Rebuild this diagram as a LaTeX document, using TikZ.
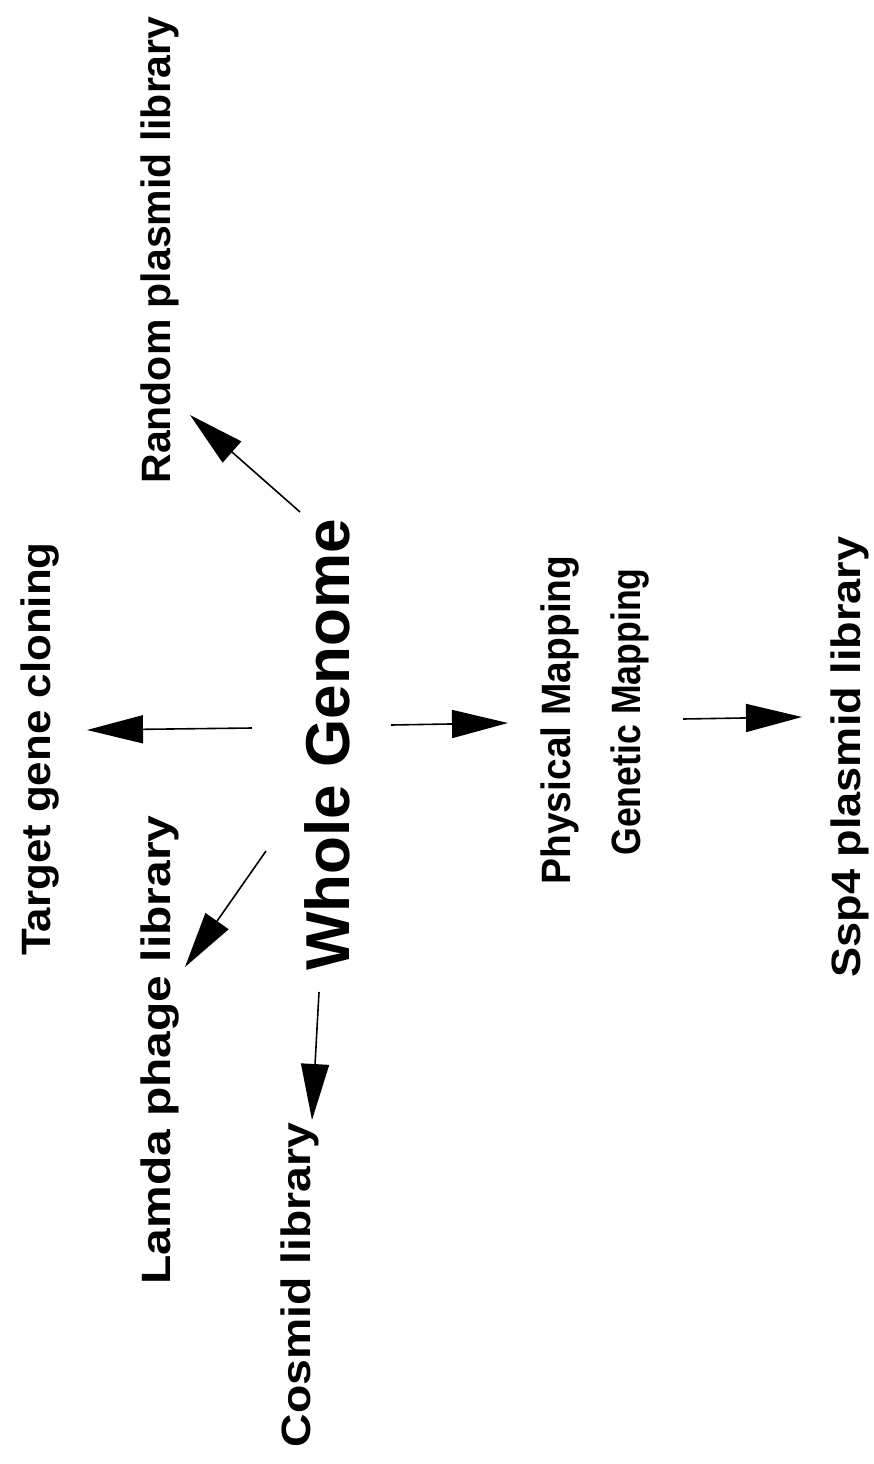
\documentclass[tikz,border=0pt]{standalone}
\usepackage{fontspec}
\setmainfont{Liberation Sans}
\usetikzlibrary{arrows.meta}

\tikzset{
  lbl/.style={rotate=90, inner sep=0pt, font=\fontsize{41}{45}\selectfont\bfseries},
  arr/.style={line width=1.6pt, -{Triangle[length=56pt, width=28pt]}}
}

\begin{document}
\begin{tikzpicture}[x=1pt, y=-1pt]
\useasboundingbox (0,0) rectangle (873,1464);

\node[lbl] (rand) at (160,250) {Random plasmid library};
\node[lbl] (target) at (40,749) {\scalebox{1.07}[1]{Target gene cloning}};
\node[lbl, font=\fontsize{62}{66}\selectfont\bfseries] (whole) at (327,745) {Whole Genome};
\node[lbl] (lamda) at (160,1050) {\scalebox{1.17}[1]{Lamda phage library}};
\node[lbl] (cosmid) at (300,1285) {\scalebox{1.13}[1]{Cosmid library}};
\node[lbl] (phys) at (560,720) {\scalebox{0.95}[1]{Physical Mapping}};
\node[lbl] (gen) at (630,712) {\scalebox{0.87}[1]{Genetic Mapping}};
\node[lbl] (ssp) at (850,757) {\scalebox{1.1}[1]{Ssp4 plasmid library}};

% arrow ends
\coordinate (w1) at (300,512);  \coordinate (r1) at (190,415);
\coordinate (w2) at (252,728);  \coordinate (t2) at (87,730);
\coordinate (w3) at (266,851);  \coordinate (l3) at (185,967);
\coordinate (w4) at (319,992);  \coordinate (c4) at (312,1120);
\coordinate (w5) at (391,725);  \coordinate (p5) at (508,723);
\coordinate (g6) at (683,719);  \coordinate (s6) at (802,717);

\draw[arr] (w1) -- (r1);
\draw[arr] (w2) -- (t2);
\draw[arr] (w3) -- (l3);
\draw[arr] (w4) -- (c4);
\draw[arr] (w5) -- (p5);
\draw[arr] (g6) -- (s6);
\end{tikzpicture}
\end{document}
